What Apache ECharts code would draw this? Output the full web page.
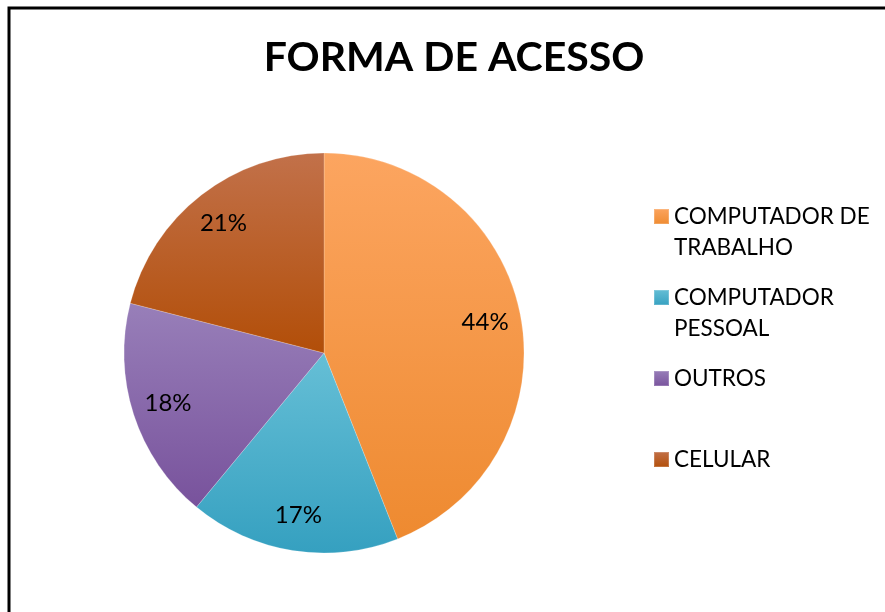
<!DOCTYPE html>
<html>
<head>
<meta charset="utf-8">
<script src="https://cdn.jsdelivr.net/npm/echarts@6/dist/echarts.min.js"></script>
<style>
  html, body { margin: 0; padding: 0; background: #fff; }
  #main { width: 885px; height: 612px; }
</style>
</head>
<body>
<div id="main"></div>
<script>
// dados
var categorias = ['COMPUTADOR DE TRABALHO', 'COMPUTADOR PESSOAL', 'OUTROS', 'CELULAR'];
var legendaLinhas = [['COMPUTADOR DE', 'TRABALHO'], ['COMPUTADOR', 'PESSOAL'], ['OUTROS', ' '], ['CELULAR', ' ']];
var valores = [44, 17, 18, 21];
var corTopo = ['#FCA560', '#66BFD6', '#987FB9', '#C2714A'];
var corBase = ['#EE8A30', '#35A0C0', '#78529C', '#B24E08'];

var fonte = 'Lato, "Open Sans", sans-serif';

var chart = echarts.init(document.getElementById('main'));

function gradiente(i) {
  return new echarts.graphic.LinearGradient(0, 0, 0, 1, [
    { offset: 0, color: corTopo[i] },
    { offset: 1, color: corBase[i] }
  ]);
}

var dados = categorias.map(function (nome, i) {
  return { name: nome, value: valores[i], itemStyle: { color: gradiente(i) } };
});

var option = {
  backgroundColor: '#fff',
  animation: false,
  title: {
    text: 'FORMA DE ACESSO',
    left: 449,
    top: 32,
    textAlign: 'center',
    textStyle: { fontFamily: fonte, fontWeight: 'bold', fontSize: 41, color: '#000' }
  },
  legend: {
    orient: 'vertical',
    left: 653,
    top: 170,
    padding: 0,
    itemWidth: 15,
    itemHeight: 15,
    itemGap: -12,
    icon: 'rect',
    data: categorias,
    formatter: function (nome) {
      var l = legendaLinhas[categorias.indexOf(nome)];
      return ' \n' + l[0] + '\n' + l[1];
    },
    textStyle: { fontFamily: fonte, fontSize: 22.5, lineHeight: 31, color: '#000' }
  },
  graphic: [{
    type: 'rect',
    shape: { x: 9, y: 8, width: 900, height: 700 },
    style: { fill: 'none', stroke: '#000', lineWidth: 3 },
    silent: true
  }],
  series: [{
    name: 'FORMA DE ACESSO',
    type: 'pie',
    center: [324, 353],
    radius: [0, 200],
    startAngle: 90,
    clockwise: true,
    label: { show: false },
    labelLine: { show: false },
    itemStyle: { borderColor: 'rgba(255,255,255,0.2)', borderWidth: 1 },
    emphasis: { scale: false },
    data: dados
  }, {
    // série auxiliar só para posicionar os rótulos a ~80% do raio
    name: 'rotulos',
    type: 'pie',
    center: [324, 353],
    radius: [122, 200],
    startAngle: 90,
    clockwise: true,
    silent: true,
    itemStyle: { color: 'rgba(0,0,0,0)' },
    label: {
      show: true,
      position: 'inside',
      formatter: '{c}%',
      fontFamily: fonte,
      fontSize: 24,
      color: '#000'
    },
    labelLine: { show: false },
    data: categorias.map(function (nome, i) {
      return { name: nome, value: valores[i] };
    })
  }]
};

chart.setOption(option);
</script>
</body>
</html>
